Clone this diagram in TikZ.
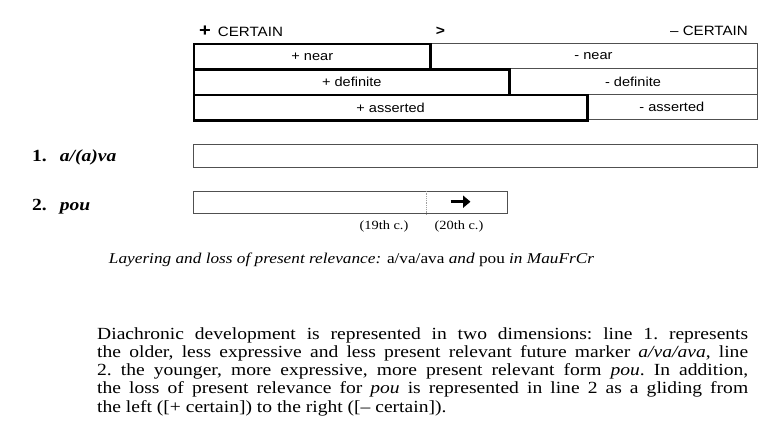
\documentclass[tikz,border=0pt]{standalone}
\usepackage{fontspec}
\setmainfont{Liberation Serif}[FakeStretch=1.15]
\newfontfamily\labelfont{Liberation Sans}[FakeStretch=1.12]
\usetikzlibrary{arrows.meta}
\definecolor{ThinGray}{HTML}{505050}
\definecolor{DivGray}{HTML}{A0A0A0}

\begin{document}
\begin{tikzpicture}[x=1pt,y=-1pt,
    plusbox/.style={draw=black,line width=2.6pt,inner sep=0pt,anchor=north west,
      minimum height=25.5pt,font=\labelfont\fontsize{13}{15}\selectfont},
    minusbox/.style={draw=ThinGray,line width=1pt,inner sep=0pt,anchor=north west,
      minimum height=25.5pt,font=\labelfont\fontsize{13}{15}\selectfont},
    rowbox/.style={draw=ThinGray,line width=1pt,inner sep=0pt,anchor=north west,
      minimum height=22.6pt},
    head/.style={font=\labelfont\fontsize{13.5}{15}\selectfont,inner sep=0pt},
    rowlabel/.style={font=\fontsize{17}{18}\selectfont\bfseries,anchor=west,inner sep=0pt}]
    \useasboundingbox[fill=white] (0,0) rectangle (758,421);
    % scale of certainty
    \node[head,anchor=west] (pcert) at (199,31) {{\fontsize{18}{18}\selectfont\bfseries +}\hspace{7pt}CERTAIN};
    \node[head,font=\labelfont\bfseries\fontsize{14}{15}\selectfont] (gt) at (440.5,31) {>};
    \node[head,anchor=east] (mcert) at (748,31) {– CERTAIN};
    % feature layers
    \node[minusbox,minimum width=327.4pt] (mnear) at (429.3,42.7) {- near};
    \node[minusbox,minimum width=248.4pt] (mdef) at (508.3,68.2) {- definite};
    \node[minusbox,minimum width=170.7pt] (mass) at (586,93.7) {- asserted};
    \node[plusbox,minimum width=236.6pt] (pnear) at (192.7,42.7) {+ near};
    \node[plusbox,minimum width=315.6pt] (pdef) at (192.7,68.2) {+ definite};
    \node[plusbox,minimum width=393.3pt] (pass) at (192.7,93.7) {+ asserted};
    % lines 1 and 2
    \node[rowlabel] (lab1) at (32,157) {1.\hspace{13pt}\itshape a/(a)va};
    \node[rowlabel] (lab2) at (32,207) {2.\hspace{13pt}\itshape pou};
    \node[rowbox,minimum width=564pt] (row1) at (192.7,144) {};
    \node[rowbox,minimum width=314.6pt] (row2) at (192.7,190.7) {};
    \coordinate (div) at (426.7,202);
    \draw[DivGray,line width=0.8pt,densely dotted] (div |- row2.north) -- (div |- row2.south);
    \coordinate (arrS) at (450.5,201.7);
    \coordinate (arrE) at (470.5,201.7);
    \draw[line width=2.6pt,-{Triangle[length=7.5pt,width=12pt]}] (arrS) -- (arrE);
    \node[font=\fontsize{12.5}{15}\selectfont,inner sep=0pt] (c19) at (384,226) {(19th c.)};
    \node[font=\fontsize{12.5}{15}\selectfont,inner sep=0pt] (c20) at (459,226) {(20th c.)};
    % caption and text
    \node[font=\fontsize{15}{18}\selectfont\itshape,inner sep=0pt] (cap) at (351.5,260)
      {Layering and loss of present relevance: \textup{a/va/ava} and \textup{pou} in MauFrCr};
    \node[font=\fontsize{17}{18.3}\selectfont,text width=651pt,align=justify,
      anchor=north west,inner sep=0pt] (txt) at (97,327)
      {\frenchspacing Diachronic development is represented in two dimensions: line 1. represents\linebreak
       the older, less expressive and less present relevant future marker \textit{a/va/ava}, line\linebreak
       2. the younger, more expressive, more present relevant form \textit{pou}. In addition,\linebreak
       the loss of present relevance for \textit{pou} is represented in line 2 as a gliding from\linebreak
       the left ([+ certain]) to the right ([– certain]).};
\end{tikzpicture}
\end{document}
